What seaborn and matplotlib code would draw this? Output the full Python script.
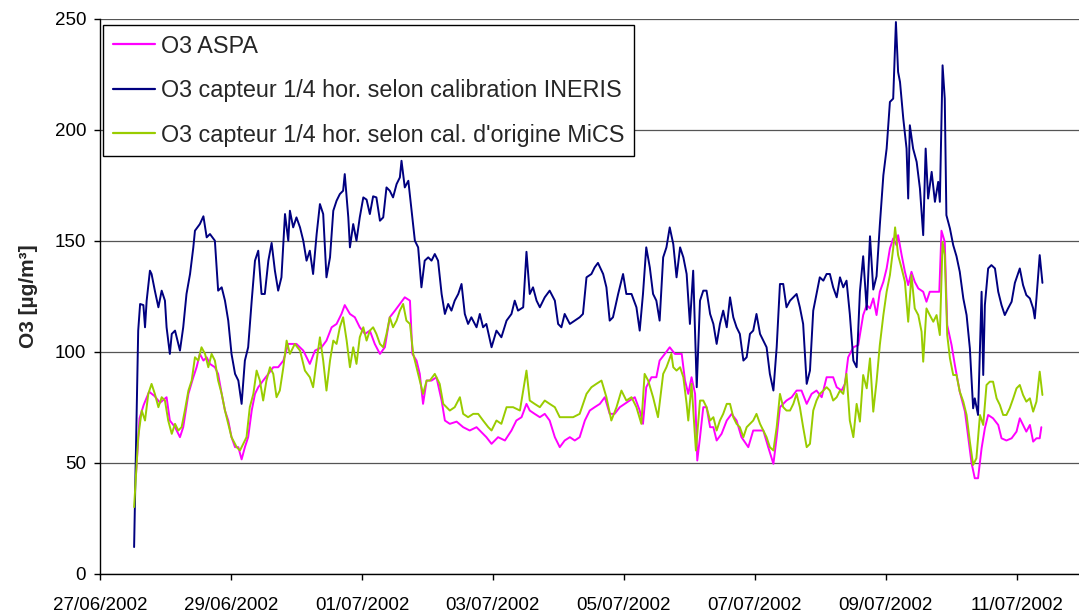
import numpy as np
import pandas as pd
import matplotlib
matplotlib.use("Agg")
import matplotlib.pyplot as plt
import matplotlib.dates as mdates
import seaborn as sns

# ---------------- data (hours since 27/06/2002 00:00, O3 in µg/m3) ----------------
ineris_h = [12.5, 14.0, 14.7, 15.9, 16.5, 17.1, 18.3, 18.9, 20.1, 21.4, 22.6, 23.8, 24.4, 25.6, 26.3, 27.5,
            28.7, 29.3, 30.5, 31.7, 33.0, 34.2, 34.8, 36.6, 37.9, 39.1, 40.3, 42.1, 43.3, 44.6, 45.8, 47.0,
            48.2, 49.5, 50.7, 51.9, 53.1, 54.3, 55.6, 56.8, 58.0, 59.2, 60.4, 61.7, 62.9, 64.1, 65.3, 66.5,
            67.8, 69.0, 69.6, 70.8, 72.0, 73.3, 74.5, 75.7, 76.9, 78.1, 79.4, 80.6, 81.8, 83.0, 84.3, 85.5,
            86.7, 87.9, 89.1, 89.7, 91.0, 91.6, 92.8, 94.0, 95.2, 96.5, 97.7, 98.9, 100.1, 101.3, 102.6,
            103.8, 105.0, 106.2, 107.4, 108.7, 109.9, 110.5, 111.7, 113.0, 114.2, 115.4, 116.6, 117.8, 119.0,
            120.3, 121.5, 122.7, 123.9, 125.2, 126.4, 127.6, 128.8, 130.0, 131.3, 132.5, 133.7, 134.9, 136.1,
            138.0, 139.2, 140.4, 141.6, 143.5, 145.3, 147.1, 149.0, 150.8, 152.0, 153.2, 155.1, 156.3, 157.5,
            158.7, 160.0, 161.2, 163.0, 164.8, 166.7, 167.9, 169.1, 170.3, 172.2, 174.0, 175.8, 177.0, 178.3,
            180.1, 181.3, 182.5, 184.4, 185.6, 186.8, 188.0, 189.9, 191.7, 192.9, 194.8, 196.6, 197.8, 199.0,
            200.2, 201.5, 202.7, 203.9, 205.1, 206.4, 207.6, 208.8, 210.1, 211.3, 212.6, 213.8, 215.0, 216.2,
            217.4, 218.7, 219.9, 221.1, 222.3, 223.6, 224.8, 226.0, 227.2, 228.4, 229.7, 230.9, 232.1, 233.3,
            234.5, 235.8, 237.0, 238.2, 239.4, 240.6, 241.9, 243.1, 244.3, 245.5, 246.8, 248.0, 249.2, 250.4,
            251.6, 252.9, 254.1, 255.3, 256.5, 257.7, 259.0, 260.2, 261.4, 262.6, 263.8, 265.1, 266.3, 267.5,
            268.7, 270.0, 271.2, 272.4, 273.6, 274.8, 276.1, 277.3, 278.5, 279.7, 281.0, 282.2, 283.4, 284.6,
            285.8, 287.1, 288.3, 289.5, 290.7, 291.7, 292.5, 293.2, 294.4, 295.6, 296.2, 296.8, 298.0, 299.3,
            300.5, 301.7, 302.6, 303.5, 304.8, 306.0, 307.2, 307.8, 308.8, 309.6, 310.2, 311.5, 312.7, 313.9,
            315.1, 316.4, 317.6, 318.8, 320.0, 320.6, 321.8, 323.1, 323.7, 324.3, 325.5, 326.7, 328.0, 329.2,
            330.4, 331.6, 332.8, 334.1, 335.3, 337.1, 338.3, 339.5, 340.8, 342.0, 342.6, 343.2, 344.4, 345.4]
ineris_v = [12, 109.5, 121.5, 121, 111, 123, 136.5, 135, 127.5, 120, 127.5, 123, 111, 99, 108, 109.5,
            103.5, 100.5, 111, 126, 135, 147, 154.5, 157.5, 161, 151.5, 153, 150, 127.5, 129, 123, 114,
            99, 90, 87, 76.5, 96, 102, 123, 141, 145.5, 126, 126, 141, 149, 136.5, 127.5, 133.5,
            162, 150, 163.5, 156, 160.5, 156, 150, 141, 145.5, 135, 153, 166.5, 162, 133.5, 142.5, 163.5,
            168, 171, 172.5, 180, 160.5, 147, 157.5, 150, 160.5, 169.5, 168.5, 162, 170, 169.5, 159,
            160.5, 174, 172.5, 169.5, 175.5, 178.5, 186, 174, 177, 163.5, 150, 147, 129, 141,
            142.5, 141, 144, 141, 126, 117, 121.5, 118.5, 123, 126, 130.5, 117, 112.5, 115.5,
            111, 117, 111, 112.5, 102, 109.5, 106.5, 114, 117, 123, 118.5, 120, 145, 126,
            129, 123, 120, 124.5, 127.5, 123, 112.5, 111, 117, 112.5, 114, 115.5, 117, 133.5,
            135, 138, 140, 135, 129, 114, 115.5, 126, 135, 126, 126, 120, 109.5, 126,
            147, 138, 126, 123, 114, 142.5, 147, 156, 148.5, 133.5, 147, 142.5, 135, 112.5,
            136.5, 84, 123, 127.5, 127.5, 117, 112.5, 103.5, 112.5, 118.5, 111, 124.5, 115.5, 111,
            108, 96, 97.5, 108, 109.5, 117, 108, 105, 102, 90, 82.5, 102, 130.5, 130.5,
            120, 123, 124.5, 126, 120, 112.5, 85.5, 91.5, 118.5, 126, 133.5, 132, 135, 135,
            129, 124.5, 133.5, 129, 132, 117, 96, 93, 127, 143, 119, 152, 128, 134,
            157, 179.5, 191.5, 212.5, 214, 248.5, 226, 221.5, 205, 191.5, 169, 202, 191.5, 185.5,
            173.5, 152.5, 191.5, 169, 181, 167.5, 176.5, 167.5, 229, 214, 161.5, 155.5, 148, 143,
            136, 124, 116.5, 101.5, 74.5, 79, 71.5, 127, 89.5, 121, 137.5, 139, 137.5, 127,
            121, 116.5, 119.5, 122.5, 131, 137.5, 130, 125.5, 124, 119.5, 115, 124, 143.5, 131]

aspa_h = [13.2, 14.5, 16.0, 18.0, 20.0, 22.0, 24.4, 25.6, 27.5, 29.3, 30.5, 32.4, 34.2, 35.4, 36.6, 37.9,
          39.1, 40.3, 42.1, 43.3, 44.6, 45.8, 47.0, 48.2, 49.5, 50.7, 51.9, 53.1, 54.3, 55.6, 56.8, 58.0,
          59.8, 61.7, 63.5, 65.3, 67.2, 69.0, 72.0, 74.5, 76.9, 78.8, 81.2, 83.0, 84.9, 86.7, 88.5, 89.7,
          91.6, 93.4, 95.2, 97.1, 98.9, 100.7, 102.6, 104.4, 106.2, 108.1, 109.9, 111.7, 113.6, 114.5,
          116.0, 117.2, 118.4, 119.7, 121.5, 123.3, 125.2, 126.4, 128.2, 130.7, 133.1, 135.5, 138.0,
          141.6, 143.5, 145.9, 148.4, 150.8, 152.6, 154.5, 156.3, 157.5, 159.3, 161.2, 163.0, 164.8,
          166.7, 168.5, 170.3, 172.2, 174.0, 175.8, 177.7, 179.5, 181.3, 183.2, 185.0, 186.8, 188.6,
          190.5, 192.3, 194.1, 196.0, 197.8, 199.0, 200.2, 202.1, 203.9, 205.1, 207.0, 208.8, 210.7,
          213.2, 214.4, 215.6, 216.8, 218.1, 218.9, 219.9, 221.1, 222.3, 223.6, 224.8, 226.0, 227.8,
          229.7, 231.5, 233.3, 235.1, 237.6, 239.4, 241.3, 243.1, 244.9, 246.8, 248.0, 249.2, 250.4,
          251.6, 253.5, 255.3, 257.1, 259.0, 260.8, 262.6, 264.5, 266.3, 268.7, 270.0, 271.8, 273.0,
          274.2, 276.1, 277.9, 279.7, 281.0, 282.2, 283.4, 284.6, 285.8, 287.1, 288.3, 289.5, 290.7,
          291.9, 292.5, 293.8, 295.0, 296.2, 297.4, 298.6, 299.9, 301.7, 302.9, 304.1, 306.0, 307.6,
          308.4, 309.6, 310.5, 312.1, 313.3, 315.1, 317.0, 318.2, 319.4, 320.6, 321.8, 323.1, 324.3,
          325.5, 327.3, 329.2, 330.4, 332.2, 334.1, 335.9, 337.1, 338.3, 339.5, 340.8, 342.0, 343.2,
          344.4, 345.0]
aspa_v = [45, 70, 76, 82, 80, 77, 79.5, 69, 66, 61.5, 66, 81, 88.5, 93, 99, 96,
          97.5, 94.5, 93, 90, 81, 73.5, 69, 61.5, 57, 57, 51.5, 57, 61.5, 73.5, 81, 84,
          87, 90, 93, 93, 96, 103.5, 103.5, 100.5, 94.5, 100.5, 102, 105, 111, 112.5, 117, 121,
          117, 115.5, 111, 108, 109.5, 103.5, 99, 102, 115.5, 118.5, 121.5, 124.5, 123, 99,
          96, 90, 76.5, 87, 87, 88.5, 78, 69, 67.5, 68.5, 66, 64.5, 66,
          61.5, 58.5, 61.5, 60, 64.5, 69, 70.5, 76.5, 73.5, 72, 70.5, 72, 69,
          61.5, 57, 60, 61.5, 60, 61.5, 69, 73.5, 75, 76.5, 79.5, 72, 72,
          75, 76.5, 78, 79.5, 73.5, 67.5, 84, 88.5, 88.5, 96, 99, 102, 99,
          99, 87, 81, 88.5, 81, 51, 61.5, 75, 75, 66, 66, 60, 63,
          69, 72, 69, 61.5, 57, 64.5, 64.5, 64.5, 57, 49.5, 61.5, 75, 76.5,
          78, 79.5, 82.5, 82.5, 76.5, 81, 82.5, 79.5, 88.5, 88.5, 84, 82.5, 85.5,
          97.5, 102, 103, 116.5, 121, 119.5, 124, 116.5, 127, 131.5, 137.5, 146.5, 151,
          148, 152.5, 143.5, 136, 130, 136, 131.5, 128.5, 127, 122.5, 127, 127, 127,
          154.5, 149.5, 112, 103, 94, 82, 73, 61.5, 50, 43, 43, 56.5, 65.5,
          71.5, 70, 67, 61, 60, 61, 64, 70, 67, 64, 67, 59.5, 61,
          61, 66]

mics_h = [12.5, 14.0, 15.3, 16.5, 17.7, 18.9, 20.1, 21.4, 22.6, 23.8, 25.0, 26.3, 27.5, 28.7, 29.9, 31.1,
          32.4, 33.6, 34.8, 36.0, 37.2, 38.5, 39.7, 40.9, 42.1, 43.3, 44.6, 45.8, 47.0, 48.2, 50.1, 51.3,
          52.5, 53.7, 54.9, 56.2, 57.4, 58.6, 59.8, 61.0, 62.3, 63.5, 64.7, 65.9, 67.2, 68.4, 69.6, 71.4,
          73.3, 75.1, 76.9, 78.1, 79.4, 80.6, 81.8, 83.0, 84.3, 85.5, 86.7, 87.9, 89.1, 90.4, 91.6, 92.8,
          94.0, 95.2, 96.5, 97.7, 98.9, 100.1, 101.3, 102.6, 103.8, 105.0, 106.2, 107.4, 108.7, 109.9,
          111.1, 112.3, 113.6, 114.8, 116.0, 117.2, 118.4, 119.7, 120.9, 122.7, 124.5, 125.8, 127.0,
          128.2, 130.0, 131.9, 133.1, 134.9, 136.8, 138.6, 140.4, 142.3, 143.5, 145.3, 147.1, 149.0,
          151.4, 153.9, 156.3, 157.5, 159.3, 161.2, 163.0, 164.8, 166.7, 168.5, 171.0, 173.4, 175.8,
          178.3, 180.1, 181.9, 183.8, 185.6, 187.4, 189.3, 191.1, 192.9, 194.8, 196.6, 198.4, 199.6,
          200.9, 202.7, 204.5, 206.4, 207.6, 209.4, 210.1, 211.3, 212.6, 213.8, 215.0, 215.6, 216.8,
          218.4, 219.9, 221.1, 222.3, 223.6, 224.8, 226.0, 227.2, 228.4, 229.7, 230.9, 232.1, 233.3,
          234.5, 235.8, 237.0, 238.2, 239.4, 240.6, 241.9, 243.1, 244.3, 245.5, 246.8, 248.0, 249.2,
          250.4, 251.6, 252.9, 254.1, 255.3, 256.5, 257.7, 259.0, 260.2, 261.4, 262.6, 263.8, 265.1,
          266.3, 267.5, 268.7, 270.0, 271.2, 272.4, 273.6, 274.8, 276.1, 277.3, 278.5, 279.7, 281.0,
          282.2, 283.4, 284.6, 285.8, 287.1, 288.3, 289.5, 290.7, 291.4, 292.5, 293.8, 295.0, 296.2,
          297.4, 298.6, 299.9, 301.1, 301.7, 302.9, 304.1, 305.4, 306.6, 307.8, 308.8, 309.6, 310.5,
          311.5, 312.7, 313.9, 315.1, 316.4, 317.6, 318.8, 320.0, 321.2, 322.5, 323.7, 324.9, 326.1,
          327.3, 328.6, 329.8, 331.0, 332.2, 333.4, 334.7, 335.9, 337.1, 338.3, 339.5, 340.8, 342.0,
          343.2, 344.4, 345.4]
mics_v = [30, 61.5, 73.5, 69, 81, 85.5, 81, 75, 79.5, 78, 69, 63, 67.5, 64.5, 66, 73.5,
          82.5, 87, 97.5, 96, 102, 99, 93, 99, 96, 87, 81, 73.5, 67.5, 61.5, 57, 55.5,
          58.5, 61.5, 75, 81, 91.5, 87, 78, 87, 93, 90, 79.5, 82.5, 93, 105, 99, 103.5,
          100.5, 91.5, 88.5, 84, 96, 106.5, 96, 82.5, 96, 105, 103.5, 111, 115.5, 105, 93, 102,
          94.5, 106.5, 111, 105, 109.5, 111, 108, 103.5, 102, 108, 115.5, 111, 114, 118.5,
          121.5, 114, 112.5, 99, 93, 87, 81, 87, 87, 90, 85.5, 76.5, 75,
          73.5, 75, 79.5, 72, 70.5, 72, 72, 69, 66, 64.5, 69, 67.5, 75,
          75, 73.5, 91.5, 78, 76.5, 75, 78, 76.5, 75, 70.5, 70.5, 70.5, 72,
          81, 84, 85.5, 87, 79.5, 69, 75, 82.5, 78, 79.5, 75, 67.5, 90,
          87, 79.5, 70.5, 90, 93, 99, 93, 91.5, 93, 88.5, 76.5, 69, 85.5,
          55.5, 78, 78, 75, 69, 70.5, 64.5, 69, 72, 76.5, 76.5, 70.5, 67.5,
          66, 61.5, 66, 67.5, 69, 72, 67.5, 64.5, 61.5, 57, 55.5, 66, 81,
          75, 73.5, 73.5, 76.5, 81, 75, 66, 57, 58.5, 73.5, 78, 81, 82.5,
          84, 82.5, 78, 79.5, 82.5, 81, 90, 69, 61.5, 76.5, 68.5, 89.5, 83.5,
          97, 73, 86.5, 103, 116.5, 127, 134.5, 146.5, 156, 143.5, 137.5, 131.5, 113.5,
          134.5, 119.5, 116.5, 109, 95.5, 119.5, 116.5, 113.5, 116.5, 107.5, 149.5, 143.5, 107.5,
          97, 89.5, 89.5, 82, 77.5, 71.5, 59.5, 49, 52, 71.5, 67, 85, 86.5,
          86.5, 79, 76, 71.5, 71.5, 74.5, 79, 83.5, 85, 80.5, 77.5, 79, 73,
          77.5, 91, 80.5]

series_names = ["O3 ASPA",
                "O3 capteur 1/4 hor. selon calibration INERIS",
                "O3 capteur 1/4 hor. selon cal. d'origine MiCS"]
series_colors = ["#FF00FF", "#000080", "#99CC00"]
start_date = "2002-06-27"
x_tick_count = 8          # one tick every 2 days from 27/06/2002
y_ticks = [0, 50, 100, 150, 200, 250]

# ---------------- build table ----------------
base = pd.Timestamp(start_date)
frames = []
for name, hh, vv in zip(series_names, [aspa_h, ineris_h, mics_h], [aspa_v, ineris_v, mics_v]):
    frames.append(pd.DataFrame({"time": base + pd.to_timedelta(hh, unit="h"),
                                "value": vv, "serie": name}))
df = pd.concat(frames, ignore_index=True)

# ---------------- plot ----------------
sns.set_style("white")
plt.rcParams["font.family"] = ["Liberation Sans", "DejaVu Sans"]

W, H = 1079, 615
fig = plt.figure(figsize=(W / 100, H / 100), dpi=100)
ax = fig.add_axes([100 / W, (H - 573.7) / H, 979 / W, 555 / H])

sns.lineplot(data=df, x="time", y="value", hue="serie", hue_order=series_names,
             palette=series_colors, estimator=None, linewidth=1.4, ax=ax)

ax.set_xlim(base, base + pd.Timedelta(days=14.95))
ax.set_ylim(0, 250)
ax.set_yticks(y_ticks)
ax.set_xticks(pd.date_range(base, periods=x_tick_count, freq="2D"))
ax.xaxis.set_major_formatter(mdates.DateFormatter("%d/%m/%Y"))

ax.yaxis.grid(True, color="#555555", linewidth=0.9)
ax.set_axisbelow(True)
for s in ["top", "right"]:
    ax.spines[s].set_visible(False)
for s in ["left", "bottom"]:
    ax.spines[s].set_color("black")
    ax.spines[s].set_linewidth(1.0)

ax.tick_params(axis="both", which="major", direction="out", length=4, width=1,
               color="black", labelsize=13.5, labelcolor="black", pad=6,
               bottom=True, left=True)
ax.tick_params(axis="x", pad=13)
ax.set_xlabel("")
ax.set_ylabel("O3 [µg/m³]", fontsize=15, fontweight="bold", labelpad=12)

leg = ax.legend(loc="upper left", bbox_to_anchor=(0.003, 0.989), borderaxespad=0,
                fontsize=16.8, frameon=True, fancybox=False, framealpha=1,
                edgecolor="black", handlelength=1.8, handletextpad=0.25,
                labelspacing=0.92, borderpad=0.42, title=None)
leg.get_frame().set_linewidth(1.0)
for line in leg.get_lines():
    line.set_linewidth(1.6)

fig.savefig("out.png", dpi=100)
